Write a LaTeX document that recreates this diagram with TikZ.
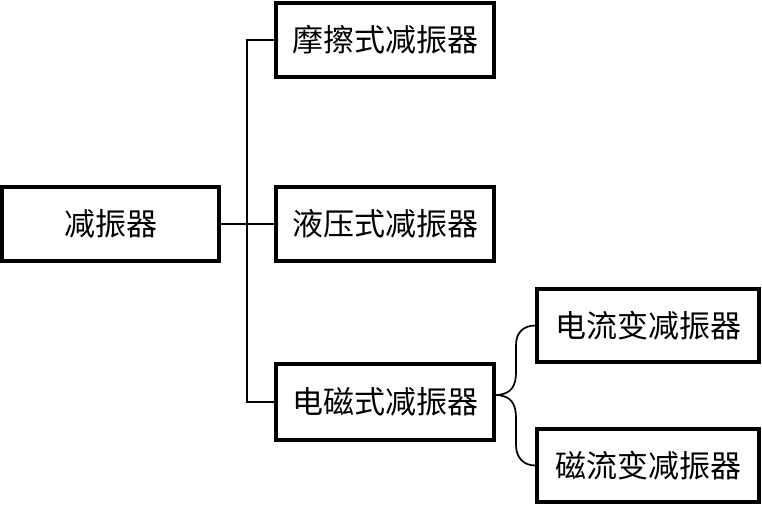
\documentclass[tikz,border=0pt]{standalone}
\usepackage{fontspec}
\newfontfamily\cjk{Noto Sans CJK SC}
\begin{document}
\begin{tikzpicture}[x=1pt,y=-1pt,
  box/.style={draw=black,line width=3.2pt,rectangle,inner sep=0pt,
    minimum width=218pt,minimum height=74pt,font=\cjk\fontsize{31}{37}\selectfont},
  link/.style={draw=black,line width=1.7pt}]
\useasboundingbox (0,0) rectangle (762,507);
\fill[white] (0,0) rectangle (762,507);
\node[box,minimum width=217pt] (A) at (110.5,224) {减振器};
\node[box] (B) at (385,40) {摩擦式减振器};
\node[box] (C) at (385,224) {液压式减振器};
\node[box,minimum height=76pt] (D) at (385,402) {电磁式减振器};
\node[box,minimum width=222pt,minimum height=73pt] (E) at (648,325.5) {电流变减振器};
\node[box,minimum width=222pt,minimum height=73pt] (F) at (648,465.5) {磁流变减振器};
\coordinate (j) at (247,224);
\coordinate (tip) at (495,395);
\draw[link] (A.east) -- (C.west);
\draw[link] (B.west) -| (j);
\draw[link] (D.west) -| (j);
\draw[link] (tip) .. controls (512,395) and (516,385) .. (516,372) -- (516,345)
  .. controls (516,332) and (524,325.5) .. (E.west);
\draw[link] (tip) .. controls (512,395) and (516,405) .. (516,418) -- (516,445)
  .. controls (516,458) and (524,465.5) .. (F.west);
\end{tikzpicture}
\end{document}
